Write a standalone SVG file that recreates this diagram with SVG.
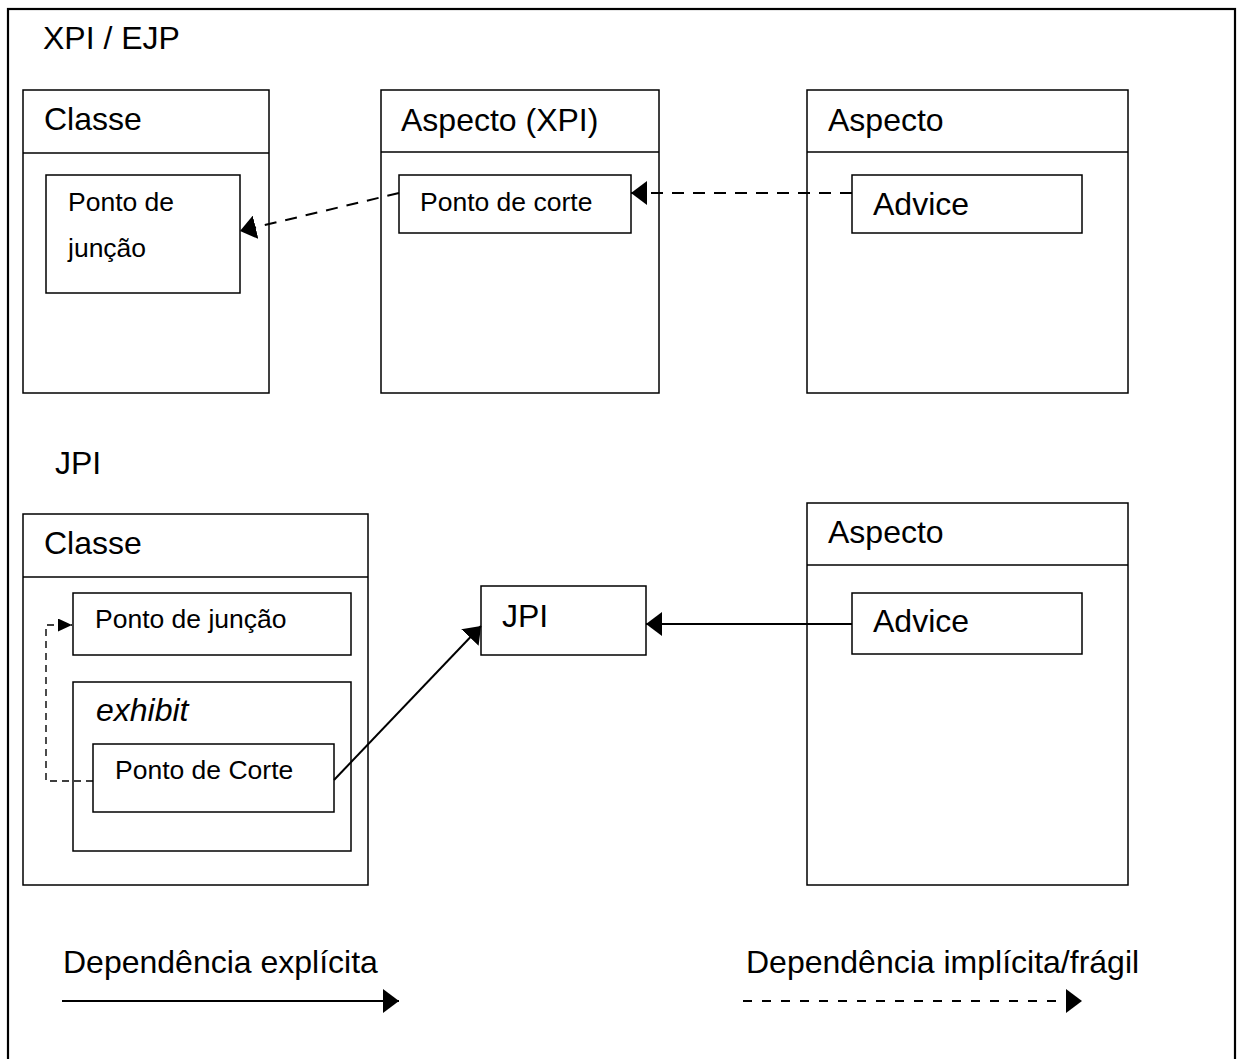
<svg xmlns="http://www.w3.org/2000/svg" width="1237" height="1059" viewBox="0 0 1237 1059">
<style>
.box{fill:#fff;stroke:#000;stroke-width:1.5}
.div{stroke:#000;stroke-width:1.5}
.frame{fill:none;stroke:#000;stroke-width:2.2}
.t{font-family:"Liberation Sans",Arial,sans-serif;font-size:32px;fill:#000}
.s{font-size:26.5px}
.it{font-style:italic}
.conn{fill:none;stroke:#000;stroke-width:2}
.dash{stroke-dasharray:12 9}
.dash2{stroke-dasharray:7 5;stroke-width:1.4}
.dash3{stroke-dasharray:9 10}
</style>
<defs>
<marker id="ah" viewBox="0 0 16 24" refX="16" refY="12" markerWidth="16" markerHeight="24" markerUnits="userSpaceOnUse" orient="auto"><path d="M0,0 L16,12 L0,24 z" fill="#000"/></marker>
<marker id="ahs" viewBox="0 0 14 13" refX="14" refY="6.5" markerWidth="14" markerHeight="13" markerUnits="userSpaceOnUse" orient="auto"><path d="M0,0 L14,6.5 L0,13 z" fill="#000"/></marker>
</defs>
<rect x="0" y="0" width="1237" height="1059" fill="#fff"/>
<rect class="frame" x="8" y="9" width="1227" height="1065"/>
<text class="t" x="43" y="49">XPI / EJP</text>
<text class="t" x="55" y="474">JPI</text>

<g id="xpi-classe">
<rect class="box" x="23" y="90" width="246" height="303"/>
<line class="div" x1="23" y1="153" x2="269" y2="153"/>
<text class="t" x="44" y="130">Classe</text>
</g>
<g id="xpi-ponto-juncao">
<rect class="box" x="46" y="175" width="194" height="118"/>
<text class="t s" x="68" y="211">Ponto de</text>
<text class="t s" x="68" y="257">junção</text>
</g>
<g id="xpi-aspecto-xpi">
<rect class="box" x="381" y="90" width="278" height="303"/>
<line class="div" x1="381" y1="152" x2="659" y2="152"/>
<text class="t" x="401" y="131">Aspecto (XPI)</text>
</g>
<g id="xpi-ponto-corte">
<rect class="box" x="399" y="175" width="232" height="58"/>
<text class="t s" x="420" y="211">Ponto de corte</text>
</g>
<g id="xpi-aspecto">
<rect class="box" x="807" y="90" width="321" height="303"/>
<line class="div" x1="807" y1="152" x2="1128" y2="152"/>
<text class="t" x="828" y="131">Aspecto</text>
</g>
<g id="xpi-advice">
<rect class="box" x="852" y="175" width="230" height="58"/>
<text class="t" x="873" y="215">Advice</text>
</g>

<g id="jpi-classe">
<rect class="box" x="23" y="514" width="345" height="371"/>
<line class="div" x1="23" y1="577" x2="368" y2="577"/>
<text class="t" x="44" y="554">Classe</text>
</g>
<g id="jpi-ponto-juncao">
<rect class="box" x="73" y="593" width="278" height="62"/>
<text class="t s" x="95" y="628">Ponto de junção</text>
</g>
<g id="jpi-exhibit">
<rect class="box" x="73" y="682" width="278" height="169"/>
<text class="t it" x="96" y="721">exhibit</text>
</g>
<g id="jpi-ponto-corte">
<rect class="box" x="93" y="744" width="241" height="68"/>
<text class="t s" x="115" y="779">Ponto de Corte</text>
</g>
<g id="jpi-jpi">
<rect class="box" x="481" y="586" width="165" height="69"/>
<text class="t" x="502" y="627">JPI</text>
</g>
<g id="jpi-aspecto">
<rect class="box" x="807" y="503" width="321" height="382"/>
<line class="div" x1="807" y1="565" x2="1128" y2="565"/>
<text class="t" x="828" y="543">Aspecto</text>
</g>
<g id="jpi-advice">
<rect class="box" x="852" y="593" width="230" height="61"/>
<text class="t" x="873" y="632">Advice</text>
</g>

<g id="legend">
<text class="t" x="63" y="973">Dependência explícita</text>
<text class="t" x="746" y="973">Dependência implícita/frágil</text>
</g>

<g id="connectors">
<line class="conn dash" x1="852" y1="193" x2="631" y2="193" marker-end="url(#ah)"/>
<line class="conn dash" x1="399" y1="193" x2="240" y2="231" marker-end="url(#ah)"/>
<path class="conn dash2" d="M93,781 H46 V625 H72" marker-end="url(#ahs)"/>
<line class="conn" x1="334" y1="780" x2="481" y2="626" marker-end="url(#ah)"/>
<line class="conn" x1="852" y1="624" x2="646" y2="624" marker-end="url(#ah)"/>
<line class="conn" x1="62" y1="1001" x2="399" y2="1001" marker-end="url(#ah)"/>
<line class="conn dash3" x1="743" y1="1001" x2="1082" y2="1001" marker-end="url(#ah)"/>
</g>
</svg>
